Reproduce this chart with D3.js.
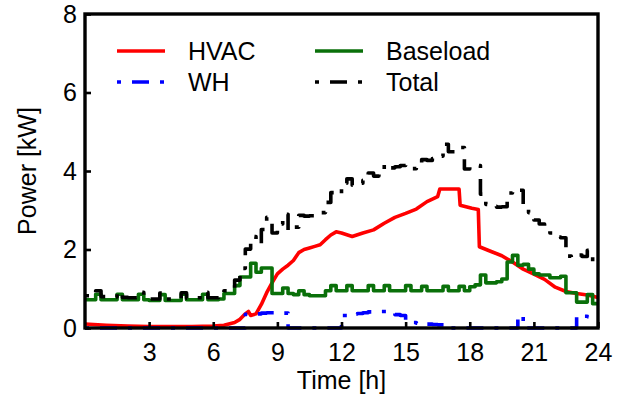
<!DOCTYPE html>
<html><head><meta charset="utf-8">
<script src="https://cdn.jsdelivr.net/npm/d3@7"></script>
<style>
body{margin:0;background:#fff}
svg{display:block;font-family:"Liberation Sans",Arial,sans-serif}
</style>
</head><body>
<svg id="c" width="621" height="402"></svg>
<script>
// ---- data ----
const hvacHours=[0,1,2,3,5,6,6.5,7,7.25,7.5,7.65,7.75,8,8.25,8.5,8.75,9,9.25,9.5,9.75,10,10.25,10.5,10.75,11,11.25,11.5,11.75,12,12.5,13,13.5,14,14.5,15,15.5,16,16.5,16.6,17.5,17.55,18.1,18.4,18.45,19,19.5,20,20.5,21,21.5,22,22.5,23,23.5,24];
const hvacKW=[0.10,0.07,0.05,0.04,0.04,0.05,0.07,0.14,0.22,0.36,0.42,0.32,0.36,0.6,0.9,1.15,1.38,1.5,1.6,1.72,1.92,2.0,2.04,2.08,2.12,2.25,2.37,2.45,2.42,2.33,2.42,2.5,2.67,2.82,2.92,3.03,3.22,3.35,3.54,3.54,3.13,3.05,3.02,2.07,1.95,1.84,1.68,1.5,1.37,1.24,1.04,0.93,0.88,0.84,0.78];

const gridStepHours=0.25; // 15-minute samples, 0 h .. 24 h
const baseloadKW=[
0.72,0.72,0.86,0.72,0.72,0.72,0.86,0.72,
0.72,0.72,0.86,0.72,0.70,0.70,0.85,0.70,
0.70,0.70,0.86,0.72,0.72,0.72,0.86,0.72,
0.72,0.74,0.88,0.88,1.08,1.30,1.30,1.65,
1.42,1.53,1.53,0.88,0.88,1.02,0.88,0.85,
0.95,0.85,0.82,0.82,0.82,0.95,1.08,0.95,
0.95,1.08,0.95,0.95,0.95,1.08,0.95,0.95,
1.08,0.95,0.95,0.95,1.08,0.95,0.95,1.06,
0.95,0.95,0.95,1.06,0.95,0.95,1.06,0.95,
1.05,1.10,1.35,1.15,1.15,1.18,1.25,1.68,
1.85,1.60,1.62,1.50,1.38,1.35,1.35,1.28,
1.28,1.32,0.90,0.90,0.66,0.66,0.85,0.62,
0.62];
const whKW=[
0,0,0,0,0,0,0,0,
0,0,0,0,0,0,0,0,
0,0,0,0,0,0,0,0,
0,0,0,0,0,0,0.35,0.36,
0.36,0.38,0.39,0.39,0.39,0.38,0,0,
0,0,0,0,0,0,0,0,
0.32,0.34,0.36,0.37,0.39,0.41,0.42,0.42,
0.42,0.38,0.34,0.32,0.15,0.14,0.12,0.11,
0.10,0.09,0.08,0.08,0,0,0,0,
0,0,0,0,0,0,0,0,
0,0.32,0,0,0,0,0,0,
0,0,0,0,0.32,0.30,0.29,0.29,
0.29];
const totalKW=[
0.82,0.81,0.95,0.80,0.79,0.79,0.92,0.78,
0.77,0.77,0.91,0.77,0.74,0.74,0.89,0.74,
0.74,0.74,0.90,0.76,0.76,0.77,0.91,0.77,
0.77,0.80,0.95,0.98,1.22,1.52,2.01,2.33,
2.14,2.51,2.82,2.42,2.65,2.90,2.48,2.57,
2.87,2.85,2.86,2.90,2.94,3.20,3.45,3.40,
3.69,3.80,3.64,3.69,3.76,3.95,3.87,3.95,
4.17,4.08,4.11,4.14,4.15,4.06,4.10,4.29,
4.27,4.32,4.38,4.68,4.49,4.49,4.60,4.05,
4.11,4.14,3.41,3.15,3.10,3.08,3.09,3.44,
3.53,3.51,3.12,2.94,2.75,2.65,2.59,2.42,
2.32,2.30,1.83,1.80,1.86,1.82,1.98,1.68,
1.68];

const xTicks=[3,6,9,12,15,18,21,24];
const yTicks=[0,2,4,6,8];
const seriesNames=["HVAC","WH","Baseload","Total"];
const xTitle="Time [h]";
const yTitle="Power [kW]";

// ---- chart ----
const svg=d3.select("#c");
const L=85,R=598,T=14,B=328;
const x=d3.scaleLinear().domain([0,24]).range([L,R]);
const y=d3.scaleLinear().domain([0,8]).range([B,T]);

const gridPts=arr=>arr.map((v,i)=>[i*gridStepHours,v]);
const hvacPts=hvacHours.map((h,i)=>[h,hvacKW[i]]);

const lineLin=d3.line().x(d=>x(d[0])).y(d=>y(d[1]));
const lineStep=d3.line().x(d=>x(d[0])).y(d=>y(d[1])).curve(d3.curveStepAfter);

const dashDot="4,11,17,11";
const styles={
  HVAC:{color:"#ff0000",dash:null},
  WH:{color:"#0000ff",dash:dashDot},
  Baseload:{color:"#0a700a",dash:null},
  Total:{color:"#000000",dash:dashDot}
};
const LW=3.6;

const g=svg.append("g");
function drawSeries(pts,gen,name){
  g.append("path").datum(pts).attr("d",gen)
   .attr("fill","none").attr("stroke",styles[name].color)
   .attr("stroke-width",LW).attr("stroke-linejoin","round")
   .attr("stroke-dasharray",styles[name].dash);
}
drawSeries(hvacPts,lineLin,"HVAC");
drawSeries(gridPts(whKW),lineStep,"WH");
drawSeries(gridPts(baseloadKW),lineStep,"Baseload");
drawSeries(gridPts(totalKW),lineStep,"Total");

// axes
const xAxis=d3.axisBottom(x).tickValues(xTicks).tickSize(-6).tickPadding(15).tickFormat(d3.format("d"));
const yAxis=d3.axisLeft(y).tickValues(yTicks).tickSize(-6).tickPadding(8).tickFormat(d3.format("d"));
const gx=svg.append("g").attr("transform",`translate(0,${B})`).call(xAxis);
const gy=svg.append("g").attr("transform",`translate(${L},0)`).call(yAxis);
[gx,gy].forEach(a=>{
  a.select(".domain").remove();
  a.selectAll(".tick line").attr("stroke","#000").attr("stroke-width",2.6);
  a.selectAll(".tick text").attr("fill","#000").style("font-size","25px");
});

// frame
svg.append("rect").attr("x",L).attr("y",T).attr("width",R-L).attr("height",B-T)
  .attr("fill","none").attr("stroke","#000").attr("stroke-width",3.4);

// titles
svg.append("text").attr("x",(L+R)/2).attr("y",389).attr("text-anchor","middle")
  .style("font-size","25px").attr("fill","#000").text(xTitle);
svg.append("text").attr("transform",`translate(36,${(T+B)/2}) rotate(-90)`).attr("text-anchor","middle")
  .style("font-size","25px").attr("fill","#000").text(yTitle);

// legend
const legendPos=[
  {name:"HVAC",x:117,y:51},
  {name:"WH",x:117,y:82},
  {name:"Baseload",x:315,y:51},
  {name:"Total",x:315,y:82}
];
const lg=svg.append("g");
legendPos.forEach(p=>{
  lg.append("line").attr("x1",p.x).attr("x2",p.x+48).attr("y1",p.y).attr("y2",p.y)
    .attr("stroke",styles[p.name].color).attr("stroke-width",LW)
    .attr("stroke-dasharray",styles[p.name].dash);
  lg.append("text").attr("x",p.x+71).attr("y",p.y).attr("dy","0.36em")
    .style("font-size","25px").attr("fill","#000").text(p.name);
});
</script>
</body></html>
